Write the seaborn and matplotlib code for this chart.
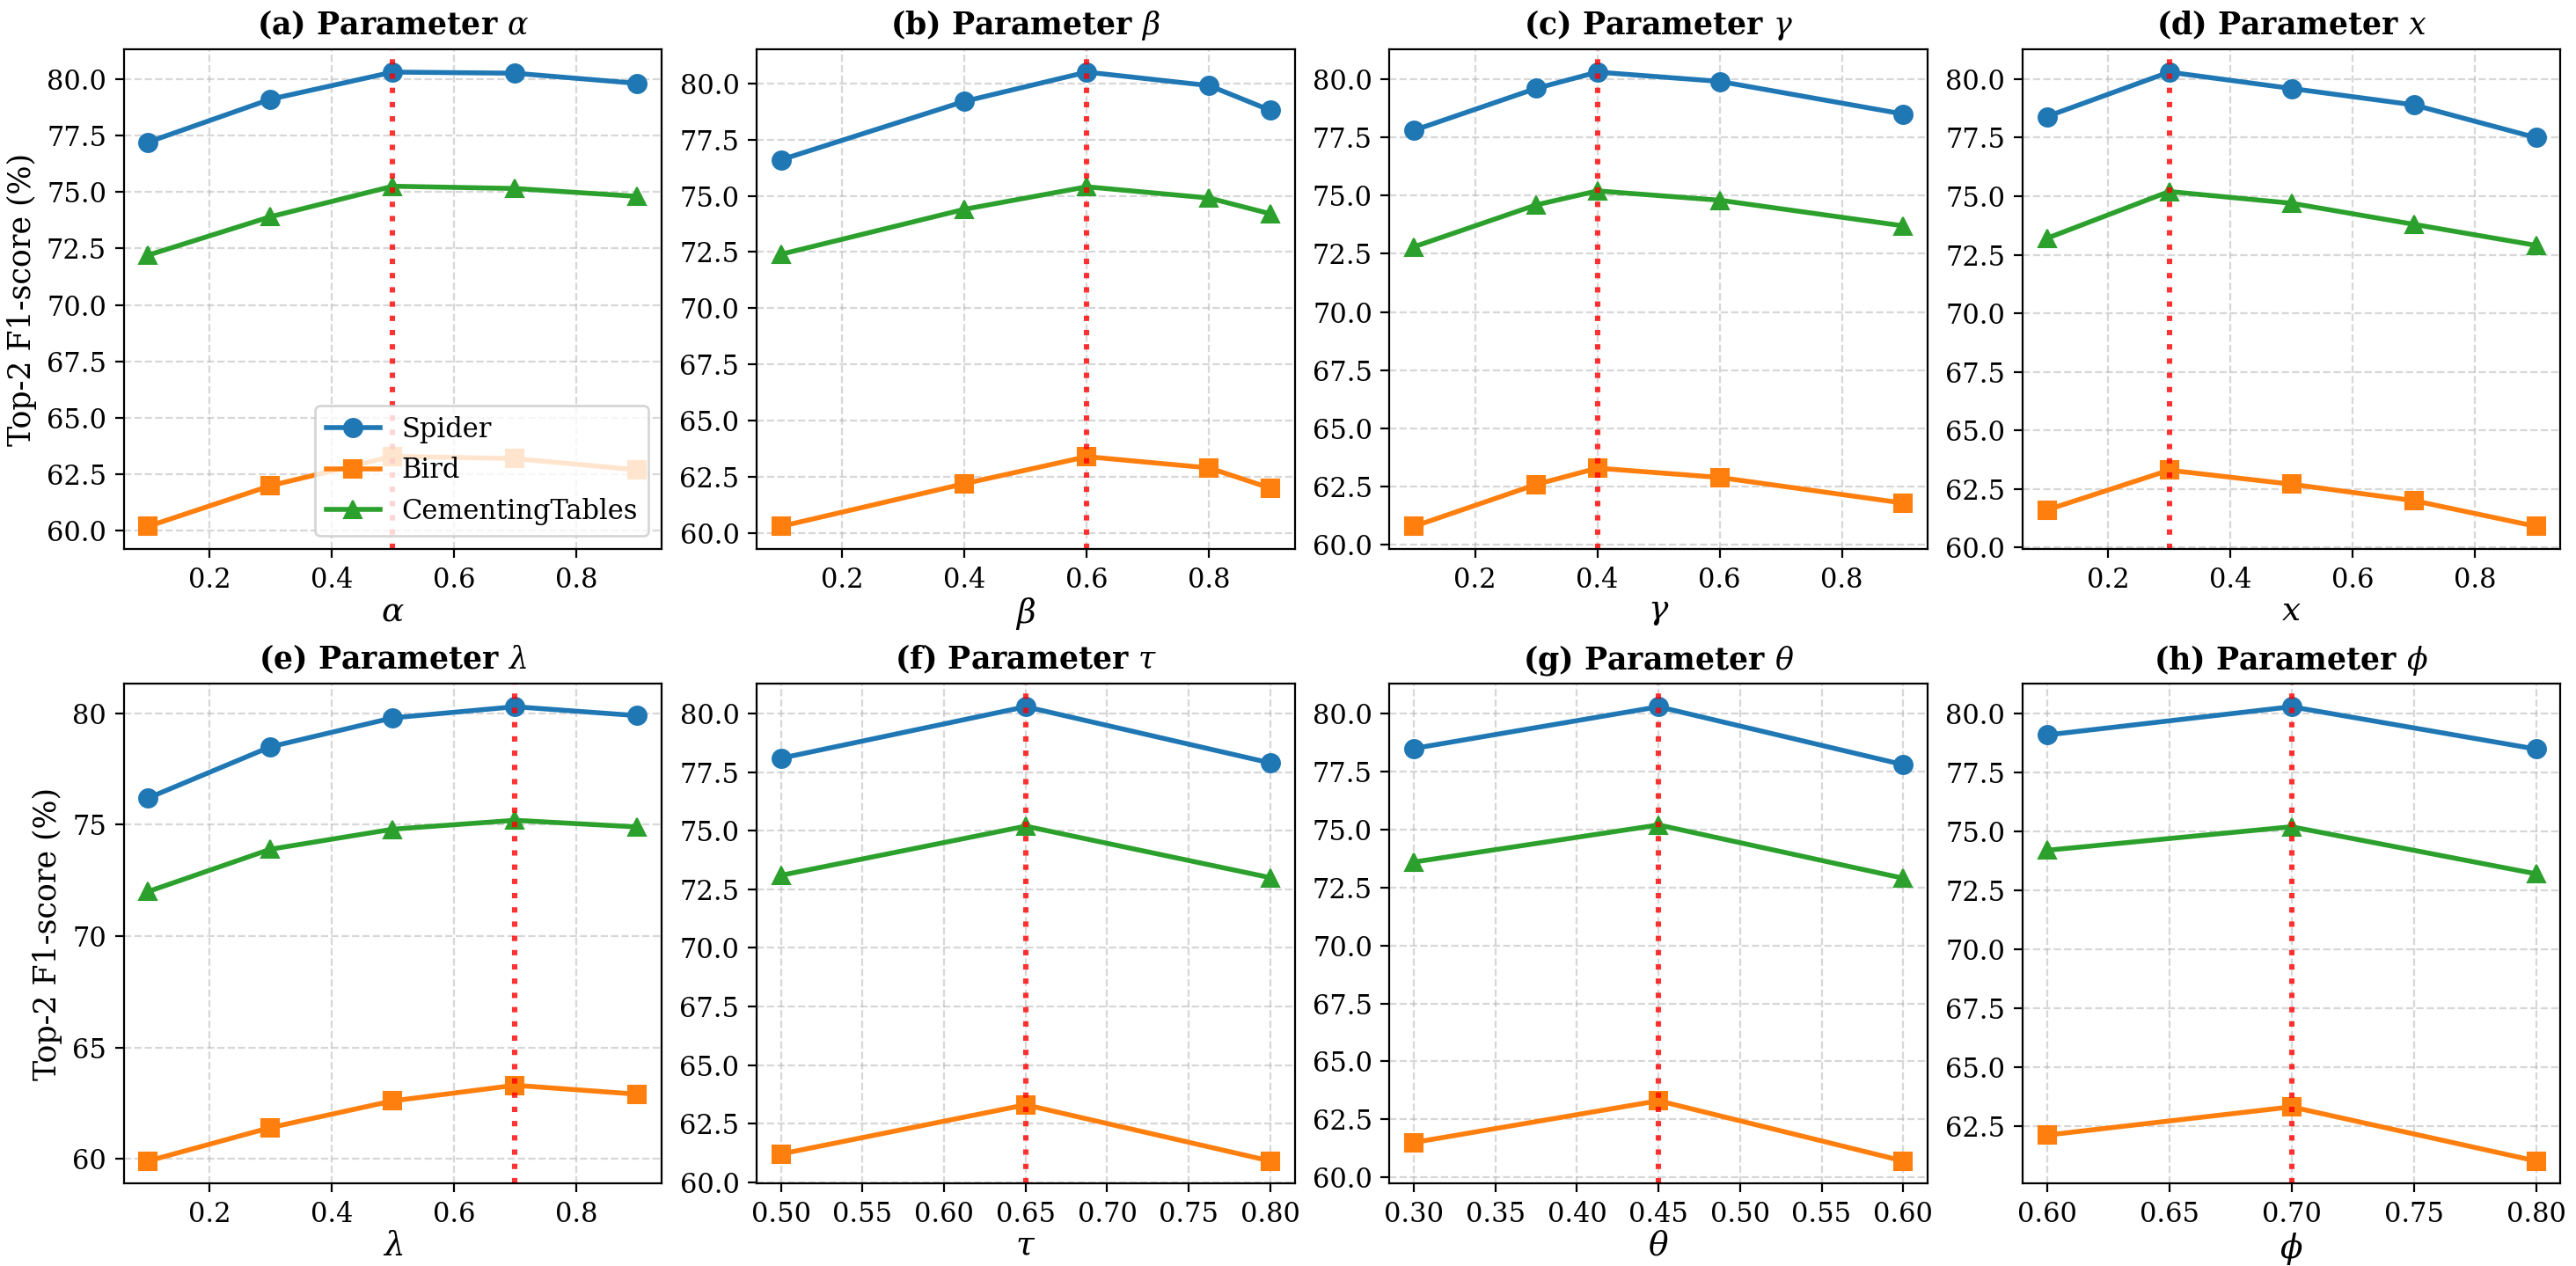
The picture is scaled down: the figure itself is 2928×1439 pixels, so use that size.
import matplotlib.pyplot as plt
import matplotlib.ticker as mticker
import seaborn as sns
import pandas as pd
import numpy as np

# --- Data ---
datasets = ["Spider", "Bird", "CementingTables"]

x_alpha = [0.1, 0.3, 0.5, 0.7, 0.9]
spider_alpha = [77.2, 79.1, 80.3, 80.25, 79.8]
bird_alpha = [60.2, 62.0, 63.3, 63.2, 62.7]
ct_alpha = [72.2, 73.9, 75.25, 75.15, 74.8]

x_beta = [0.1, 0.4, 0.6, 0.8, 0.9]
spider_beta = [76.6, 79.2, 80.5, 79.9, 78.8]
bird_beta = [60.3, 62.2, 63.4, 62.9, 62.0]
ct_beta = [72.4, 74.4, 75.4, 74.9, 74.2]

x_gamma = [0.1, 0.3, 0.4, 0.6, 0.9]
spider_gamma = [77.8, 79.6, 80.3, 79.9, 78.5]
bird_gamma = [60.8, 62.6, 63.3, 62.9, 61.8]
ct_gamma = [72.8, 74.6, 75.2, 74.8, 73.7]

x_x = [0.1, 0.3, 0.5, 0.7, 0.9]
spider_x = [78.4, 80.3, 79.6, 78.9, 77.5]
bird_x = [61.6, 63.3, 62.7, 62.0, 60.9]
ct_x = [73.2, 75.2, 74.7, 73.8, 72.9]

x_lambda = [0.1, 0.3, 0.5, 0.7, 0.9]
spider_lambda = [76.2, 78.5, 79.8, 80.3, 79.9]
bird_lambda = [59.9, 61.4, 62.6, 63.3, 62.9]
ct_lambda = [72.0, 73.9, 74.8, 75.2, 74.9]

x_tau = [0.5, 0.65, 0.8]
spider_tau = [78.1, 80.3, 77.9]
bird_tau = [61.2, 63.3, 60.9]
ct_tau = [73.1, 75.2, 73.0]

x_theta = [0.3, 0.45, 0.6]
spider_theta = [78.5, 80.3, 77.8]
bird_theta = [61.5, 63.3, 60.7]
ct_theta = [73.6, 75.2, 72.9]

x_phi = [0.6, 0.7, 0.8]
spider_phi = [79.1, 80.3, 78.5]
bird_phi = [62.1, 63.3, 61.0]
ct_phi = [74.2, 75.2, 73.2]

panels = [
    ("(a)", r"\alpha", x_alpha, [spider_alpha, bird_alpha, ct_alpha]),
    ("(b)", r"\beta", x_beta, [spider_beta, bird_beta, ct_beta]),
    ("(c)", r"\gamma", x_gamma, [spider_gamma, bird_gamma, ct_gamma]),
    ("(d)", r"x", x_x, [spider_x, bird_x, ct_x]),
    ("(e)", r"\lambda", x_lambda, [spider_lambda, bird_lambda, ct_lambda]),
    ("(f)", r"\tau", x_tau, [spider_tau, bird_tau, ct_tau]),
    ("(g)", r"\theta", x_theta, [spider_theta, bird_theta, ct_theta]),
    ("(h)", r"\phi", x_phi, [spider_phi, bird_phi, ct_phi]),
]

colors = ["#1f77b4", "#ff7f0e", "#2ca02c"]
markers = ["o", "s", "^"]

plt.rcParams["font.family"] = "DejaVu Serif"
plt.rcParams["mathtext.fontset"] = "dejavuserif"

fig, axes = plt.subplots(2, 4, figsize=(14.64, 7.195), dpi=200)

for i, (tag, sym, xs, series) in enumerate(panels):
    ax = axes.flat[i]
    for name, ys, c, m in zip(datasets, series, colors, markers):
        sns.lineplot(x=xs, y=ys, color=c, marker=m, markersize=7.5,
                     markeredgecolor=c, linewidth=2, label=name,
                     legend=False, ax=ax)
    best_x = xs[int(np.argmax(series[0]))]
    ax.axvline(best_x, color="red", linestyle=":", linewidth=2.2, alpha=0.8)

    ax.set_title(f"{tag} Parameter ${sym}$", fontsize=12.5, fontweight="bold")
    ax.set_xlabel(f"${sym}$", fontsize=13.5, labelpad=1)
    if i % 4 == 0:
        ax.set_ylabel("Top-2 F1-score (%)", fontsize=12.5)
    ax.tick_params(axis="both", labelsize=11)
    ax.grid(True, linestyle="--", alpha=0.5)

    if i == 4:
        ax.yaxis.set_major_locator(mticker.MultipleLocator(5))
        ax.yaxis.set_major_formatter(mticker.FormatStrFormatter("%d"))
    else:
        ax.yaxis.set_major_locator(mticker.MultipleLocator(2.5))
        ax.yaxis.set_major_formatter(mticker.FormatStrFormatter("%.1f"))
    if len(xs) == 3:
        ax.xaxis.set_major_locator(mticker.MultipleLocator(0.05))
        ax.xaxis.set_major_formatter(mticker.FormatStrFormatter("%.2f"))
    else:
        ax.xaxis.set_major_locator(mticker.MultipleLocator(0.2))
        ax.xaxis.set_major_formatter(mticker.FormatStrFormatter("%.1f"))

    if i == 0:
        ax.legend(handles=ax.get_lines()[:3], loc="lower right", fontsize=11)

fig.subplots_adjust(left=0.048, right=0.994, top=0.961, bottom=0.065,
                    wspace=0.176, hspace=0.27)
fig.savefig("out.png", dpi=200)
